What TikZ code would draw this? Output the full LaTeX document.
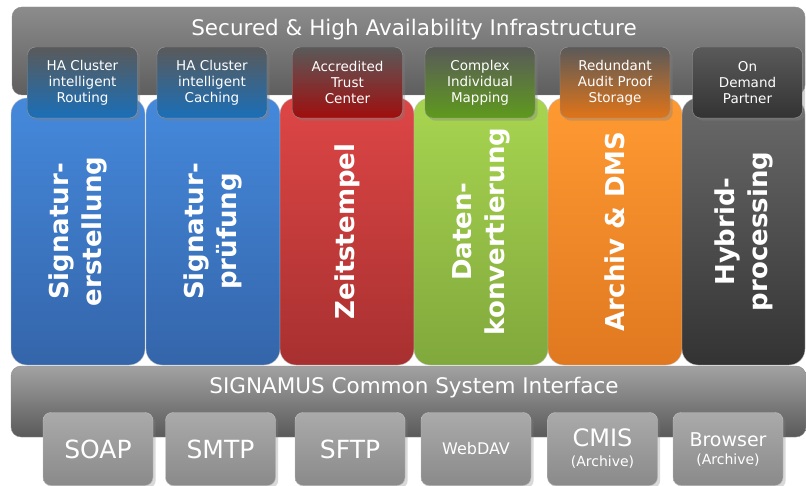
\documentclass[tikz,border=0pt]{standalone}
\usepackage{fontspec}
\setmainfont{DejaVu Sans}
\usetikzlibrary{shadows}
\definecolor{bartop}{HTML}{8C8C8C}
\definecolor{barbot}{HTML}{5E5E5E}
\definecolor{sibartop}{HTML}{A2A2A2}
\definecolor{sibarbot}{HTML}{5A5A5A}
\definecolor{tagtop}{HTML}{5A5A5A}
\definecolor{bluetop}{HTML}{4589DC}
\definecolor{bluebot}{HTML}{3465AA}
\definecolor{bluetag}{HTML}{1A6FB8}
\definecolor{redtop}{HTML}{DE4646}
\definecolor{redbot}{HTML}{A83030}
\definecolor{redtag}{HTML}{A00E0E}
\definecolor{greentop}{HTML}{A8D550}
\definecolor{greenbot}{HTML}{80A83C}
\definecolor{greentag}{HTML}{5E9A1C}
\definecolor{orangetop}{HTML}{FF9A32}
\definecolor{orangebot}{HTML}{E07820}
\definecolor{orangetag}{HTML}{E07418}
\definecolor{darktop}{HTML}{6A6A6A}
\definecolor{darkbot}{HTML}{333333}
\definecolor{darktag}{HTML}{333333}
\definecolor{porttop}{HTML}{AAAAAA}
\definecolor{portbot}{HTML}{8A8A8A}
\begin{document}
\begin{tikzpicture}[x=1pt,y=-1pt]
\tikzstyle{every node}=[text=white,inner sep=0pt]
\tikzstyle{bar}=[rectangle,rounded corners=10pt,draw=black!45]
\tikzstyle{col}=[rectangle,rounded corners=16pt,minimum width=134pt,minimum height=267pt,draw=black!25]
\tikzstyle{collabel}=[rotate=90,align=center,font=\bfseries\fontsize{26}{33}\selectfont]
\tikzstyle{tag}=[rectangle,rounded corners=8pt,minimum width=110pt,minimum height=71pt,top color=tagtop,draw=black!40,drop shadow={opacity=0.35},align=center,font=\fontsize{13.5}{16}\selectfont]
\tikzstyle{port}=[rectangle,rounded corners=8pt,minimum width=110pt,minimum height=73pt,top color=porttop,bottom color=portbot,draw=black!25,drop shadow={opacity=0.3},align=center]
\useasboundingbox (0,0) rectangle (806,486);
% top layer
\node[bar,minimum width=793pt,minimum height=88pt,top color=bartop,bottom color=barbot] (infra) at (408.5,51) {};
\node (infratext) at (414,30) {\fontsize{21.5}{24}\selectfont Secured \& High Availability Infrastructure};
% columns
\node[col,top color=bluetop,bottom color=bluebot] (col1) at (78,231.5) {};
\node[col,top color=bluetop,bottom color=bluebot] (col2) at (213,231.5) {};
\node[col,top color=redtop,bottom color=redbot] (col3) at (347,231.5) {};
\node[col,top color=greentop,bottom color=greenbot] (col4) at (481,231.5) {};
\node[col,top color=orangetop,bottom color=orangebot] (col5) at (615,231.5) {};
\node[col,minimum width=123pt,top color=darktop,bottom color=darkbot] (col6) at (743.5,231.5) {};
\node[collabel] (lab1) at (col1.center) {Signatur-\\erstellung};
\node[collabel] (lab2) at (col2.center) {Signatur-\\prüfung};
\node[collabel] (lab3) at (col3.center) {Zeitstempel};
\node[collabel] (lab4) at (col4.center) {Daten-\\konvertierung};
\node[collabel] (lab5) at (col5.center) {Archiv \& DMS};
\node[collabel] (lab6) at (col6.center) {Hybrid-\\processing};
\node[tag,bottom color=bluetag] (tag1) at (82.5,82.5) {HA Cluster\\intelligent\\Routing};
\node[tag,bottom color=bluetag] (tag2) at (212,82.5) {HA Cluster\\intelligent\\Caching};
\node[tag,bottom color=redtag] (tag3) at (347.5,82.5) {Accredited\\Trust\\Center};
\node[tag,bottom color=greentag] (tag4) at (480,82.5) {Complex\\Individual\\Mapping};
\node[tag,bottom color=orangetag] (tag5) at (615,82.5) {Redundant\\Audit Proof\\Storage};
\node[tag,bottom color=darktag] (tag6) at (747.5,82.5) {On\\Demand\\Partner};
% interface layer
\node[bar,minimum width=795pt,minimum height=71pt,top color=sibartop,bottom color=sibarbot] (csi) at (408.5,401.5) {};
\node (csitext) at (414,388) {\fontsize{21.5}{24}\selectfont SIGNAMUS Common System Interface};
\node[port,font=\fontsize{25}{28}\selectfont] (soap) at (98,449) {SOAP};
\node[port,font=\fontsize{25}{28}\selectfont] (smtp) at (220.5,449) {SMTP};
\node[port,font=\fontsize{25}{28}\selectfont] (sftp) at (350,449) {SFTP};
\node[port,font=\fontsize{16}{20}\selectfont] (webdav) at (476,449) {WebDAV};
\node[port] (cmis) at (602.5,449) {\fontsize{24}{24}\selectfont CMIS\\[8pt]\fontsize{14}{16}\selectfont (Archive)};
\node[port] (browser) at (728,449) {\fontsize{19}{20}\selectfont Browser\\[6pt]\fontsize{14}{16}\selectfont (Archive)};
\end{tikzpicture}
\end{document}
